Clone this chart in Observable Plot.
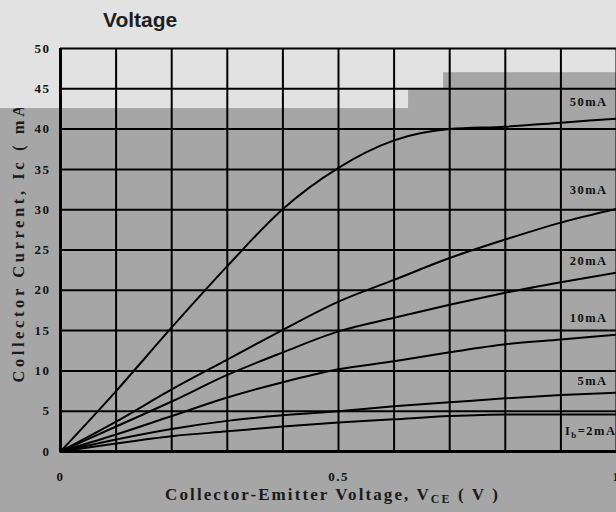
<!DOCTYPE html>
<html><head><meta charset="utf-8">
<script src="https://cdn.jsdelivr.net/npm/d3@7"></script>
<script src="https://cdn.jsdelivr.net/npm/@observablehq/plot@0.6"></script>
<style>
html,body{margin:0;padding:0;background:#a6a6a6;width:616px;height:512px;overflow:hidden}
#title{height:36px;background:#e2e2e2;font:bold 21px "Liberation Sans",Arial,sans-serif;color:#1e1e1e;padding-left:103px;line-height:40px;box-sizing:border-box}
#chart svg{display:block}
</style></head><body>
<div id="title">Voltage</div>
<div id="chart"></div>
<script>
// Collector-emitter voltage samples (V)
const vce = [0, 0.1, 0.2, 0.3, 0.4, 0.5, 0.6, 0.7, 0.8, 0.9, 1.0];
// Collector current (mA) for each base current
const ic50 = [0, 7.5, 15.4, 23.0, 30.1, 35.2, 38.6, 40.0, 40.3, 40.8, 41.3];
const ic30 = [0, 3.7, 7.7, 11.4, 15.1, 18.6, 21.3, 24.0, 26.3, 28.4, 30.1];
const ic20 = [0, 3.1, 6.2, 9.5, 12.3, 14.9, 16.6, 18.2, 19.7, 21.0, 22.2];
const ic10 = [0, 2.1, 4.4, 6.7, 8.6, 10.2, 11.2, 12.3, 13.3, 13.9, 14.5];
const ic5  = [0, 1.5, 2.8, 3.8, 4.5, 5.0, 5.6, 6.1, 6.6, 7.0, 7.3];
const ic2  = [0, 1.0, 1.9, 2.5, 3.1, 3.6, 4.0, 4.4, 4.6, 4.6, 4.6];

const seriesNames = ["50mA", "30mA", "20mA", "10mA", "5mA", "I_{b}=2mA"];
const seriesValues = [ic50, ic30, ic20, ic10, ic5, ic2];
const labelX = [0.984, 0.984, 0.984, 0.984, 0.984, 1.0];
const labelY = [43.4, 32.5, 23.6, 16.6, 8.8, 2.5];

const xTicks = [0, 0.5, 1];
const xTickLabels = ["0", "0.5", "1"];
const yTicks = [0, 5, 10, 15, 20, 25, 30, 35, 40, 45, 50];
const xGrid = [0, 0.1, 0.2, 0.3, 0.4, 0.5, 0.6, 0.7, 0.8, 0.9, 1.0];
const yGrid = yTicks;

// light background staircase (upper-left region)
const shadeRight = [0.626, 0.689, 1.05];
const shadeBottom = [42.55, 45, 47];

const xLabel = "Collector-Emitter Voltage, V_{CE} ( V )";
const yLabel = "Collector Current, Ic ( mA )";

const serif = "'Liberation Serif','Times New Roman',Times,serif";
const light = "#e2e2e2";
const gray = "#a6a6a6";

const rows = seriesNames.flatMap((name, s) =>
  vce.map((x, i) => ({series: name, v: x, ic: seriesValues[s][i]})));

const plot = Plot.plot({
  width: 616,
  height: 476,
  marginLeft: 60,
  marginRight: 0,
  marginTop: 12,
  marginBottom: 61,
  x: {domain: [0, 1]},
  y: {domain: [0, 50]},
  style: {background: gray, overflow: "visible", color: "#111"},
  marks: [
    Plot.text([yLabel], {frameAnchor: "left", textAnchor: "middle", text: d => d, rotate: -90, dx: -42, dy: -16,
      fontSize: 16.5, fontWeight: "bold", fontFamily: serif, fill: "#1a1a1a"}),
    Plot.rect(shadeRight, {x1: () => -0.11, x2: d => d, y1: (d, i) => shadeBottom[i], y2: () => 52,
      fill: light, clip: false}),
    Plot.ruleX(xGrid, {stroke: "#000", strokeWidth: 2}),
    Plot.ruleY(yGrid, {stroke: "#000", strokeWidth: 2}),
    Plot.ruleX([0], {stroke: "#000", strokeWidth: 3}),
    Plot.ruleY([0], {stroke: "#000", strokeWidth: 3}),
    Plot.line(rows, {x: "v", y: "ic", z: "series", stroke: "#000", strokeWidth: 2, curve: "monotone-x"}),
    Plot.text(seriesNames, {x: (d, i) => labelX[i], y: (d, i) => labelY[i], text: d => d,
      textAnchor: "end", fontSize: 12.5, fontWeight: "bold", fontFamily: serif, fill: "#111"}),
    Plot.axisY(yTicks, {tickSize: 0, tickPadding: 10, fontSize: 13, fontWeight: "bold", fontFamily: serif, label: null}),
    Plot.axisX(xTicks, {tickSize: 0, tickPadding: 20, fontSize: 13, fontWeight: "bold", fontFamily: serif, label: null,
      tickFormat: d => xTickLabels[xTicks.indexOf(d)]}),
    Plot.text([xLabel], {frameAnchor: "bottom", dy: 48, dx: -6, text: d => d,
      fontSize: 17, fontWeight: "bold", fontFamily: serif, fill: "#1a1a1a"})
  ]
});

document.getElementById("chart").appendChild(plot);

const svg = d3.select(plot);
const spacing = new Map([[yLabel, 3.6], [xLabel, 2.1]]);
seriesNames.forEach(n => spacing.set(n, 1.5));
xTickLabels.forEach(n => spacing.set(n, 1.5));
yTicks.forEach(n => spacing.set(String(n), 1.5));
svg.selectAll("text").each(function() {
  const t = this.textContent;
  if (spacing.has(t)) this.setAttribute("letter-spacing", spacing.get(t));
});
// subscripts written as _{...}
svg.selectAll("text").each(function() {
  const t = this.textContent;
  if (!/_\{/.test(t)) return;
  const el = d3.select(this);
  el.text(null);
  const parts = t.split(/(_\{[^}]*\})/);
  let shifted = false;
  for (const p of parts) {
    if (!p) continue;
    const m = p.match(/^_\{([^}]*)\}$/);
    if (m) {
      el.append("tspan").attr("dy", shifted ? 0 : 3).attr("font-size", "70%").text(m[1]);
      shifted = true;
    } else {
      el.append("tspan").attr("dy", shifted ? -3 : 0).text(p);
      shifted = false;
    }
  }
});
</script>
</body></html>
